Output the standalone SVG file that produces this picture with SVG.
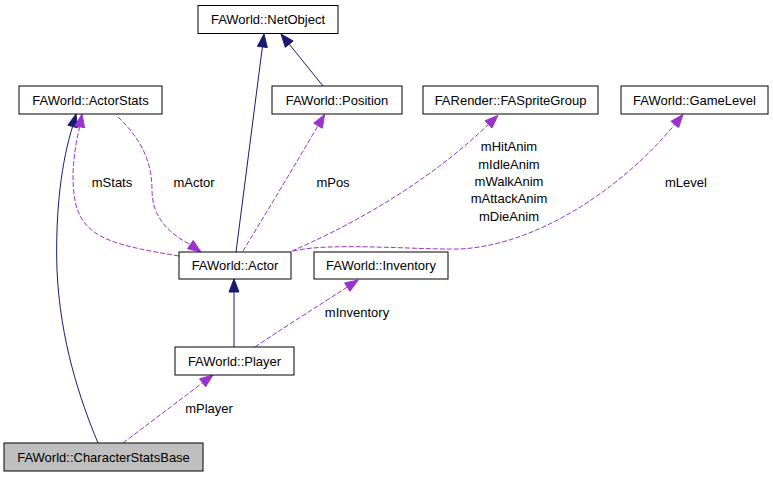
<svg xmlns="http://www.w3.org/2000/svg" width="773" height="477" viewBox="0 0 773 477">
<style>
.node rect{fill:#ffffff;stroke:#000000;stroke-width:1}
.node.sel rect{fill:#bfbfbf}
text{font-family:"Liberation Sans",Arial,sans-serif;font-size:13px;fill:#000000;text-anchor:middle}
.inh{fill:none;stroke:#191970;stroke-width:1}
.inhH{fill:#191970;stroke:#191970;stroke-width:1}
.use{fill:none;stroke:#9a32cd;stroke-width:1;stroke-dasharray:5,2}
.useH{fill:#9a32cd;stroke:#9a32cd;stroke-width:1}
</style>
<rect x="0" y="0" width="773" height="477" fill="#ffffff"/>
<g id="edges">
<path class="inh" d="M236,252 L262.4,46.9"/>
<polygon class="inhH" points="264,34 267.3,47.5 257.4,46.3"/>
<path class="inh" d="M323,86 L289.2,44.1"/>
<polygon class="inhH" points="281,34 293.1,41 285.3,47.3"/>
<path class="inh" d="M234,347 L234,292"/>
<polygon class="inhH" points="234,279 239,292 229,292"/>
<path class="inh" d="M98,443 C80,400 60,340 57,270 C55,210 62,160 72.6,126.5"/>
<polygon class="inhH" points="76,114 77.4,127.8 67.8,125.2"/>
<path class="use" d="M179,256 C120,246 85,240 76,205 C70,180 74,150 79.7,126.8"/>
<polygon class="useH" points="82,114 84.6,127.7 74.8,125.9"/>
<path class="use" d="M118,117 C140,138 152,160 152,190 C152,215 166,232 190.4,244.6"/>
<polygon class="useH" points="201,252 187.5,248.7 193.2,240.5"/>
<path class="use" d="M243,251 C265,215 295,165 318,125.7"/>
<polygon class="useH" points="324.6,114.5 322.3,128.2 313.7,123.2"/>
<path class="use" d="M292,251 C340,230 420,190 488.5,124.4"/>
<polygon class="useH" points="497.9,115.4 492,128 485,120.8"/>
<path class="use" d="M293,251 C330,242 420,250 460,249 C540,245 625,185 674.7,124.5"/>
<polygon class="useH" points="683,114.5 678.6,127.7 670.9,121.3"/>
<path class="use" d="M255,347 C280,330 318,306 347.3,287.1"/>
<polygon class="useH" points="358.2,280 350,291.3 344.6,282.9"/>
<path class="use" d="M123,443 L202.6,382.8"/>
<polygon class="useH" points="213,375 205.6,386.8 199.6,378.8"/>
<text x="112" y="186.5">mStats</text>
<text x="194" y="186.5">mActor</text>
<text x="333" y="186.5">mPos</text>
<text x="509" y="151.3">mHitAnim</text>
<text x="509" y="168.6">mIdleAnim</text>
<text x="509" y="185.9">mWalkAnim</text>
<text x="509" y="203.2">mAttackAnim</text>
<text x="509" y="220.5">mDieAnim</text>
<text x="686" y="186.5">mLevel</text>
<text x="357" y="316.5">mInventory</text>
<text x="209" y="413">mPlayer</text>
</g>
<g id="NetObject" class="node"><rect x="198" y="5.5" width="140" height="28"/><text x="268" y="24">FAWorld::NetObject</text></g>
<g id="ActorStats" class="node"><rect x="19" y="86" width="143" height="28"/><text x="90.5" y="104.5">FAWorld::ActorStats</text></g>
<g id="Position" class="node"><rect x="272" y="86" width="130" height="28"/><text x="337" y="104.5">FAWorld::Position</text></g>
<g id="FASpriteGroup" class="node"><rect x="423" y="86" width="175" height="28"/><text x="510.5" y="104.5">FARender::FASpriteGroup</text></g>
<g id="GameLevel" class="node"><rect x="621" y="86" width="147" height="28"/><text x="694.5" y="104.5">FAWorld::GameLevel</text></g>
<g id="Actor" class="node"><rect x="179" y="252" width="112" height="27"/><text x="235" y="270">FAWorld::Actor</text></g>
<g id="Inventory" class="node"><rect x="314" y="252" width="134" height="27"/><text x="381" y="270">FAWorld::Inventory</text></g>
<g id="Player" class="node"><rect x="175" y="347" width="119" height="28"/><text x="234.5" y="365.5">FAWorld::Player</text></g>
<g id="CharacterStatsBase" class="node sel"><rect x="4" y="443" width="199" height="28"/><text x="103.5" y="461.5">FAWorld::CharacterStatsBase</text></g>
</svg>
